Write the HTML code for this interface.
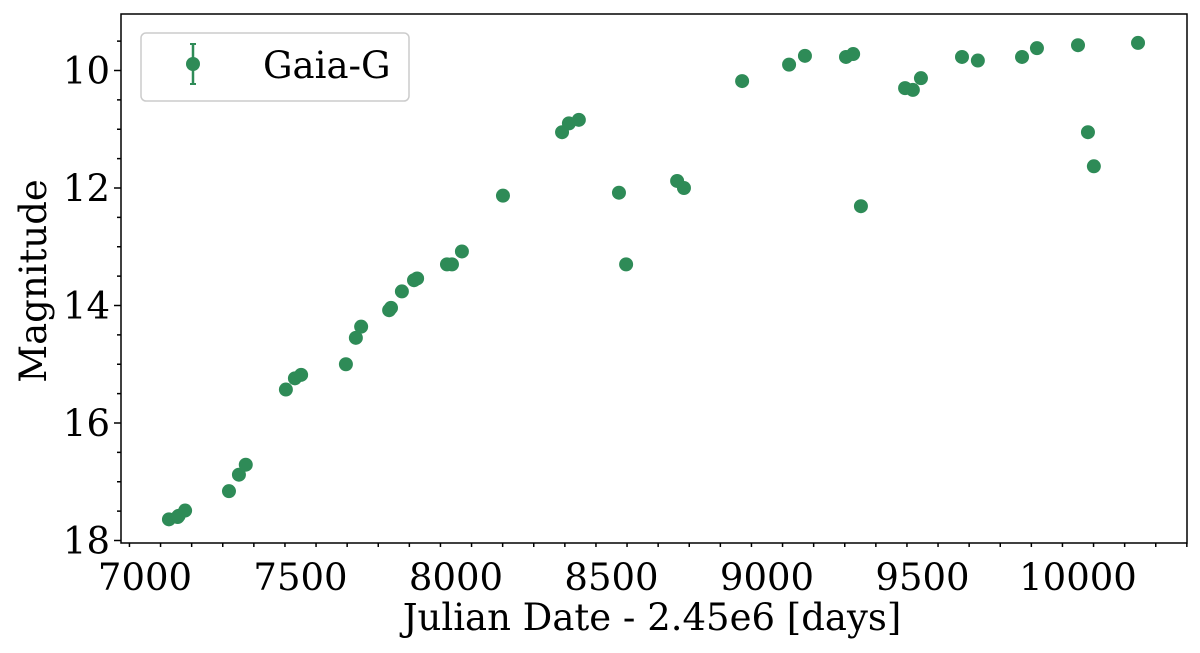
<!DOCTYPE html>
<html><head><meta charset="utf-8"><style>
body{margin:0;background:#fff}
svg text{font-family:"DejaVu Serif","Liberation Serif",serif;fill:#000}
</style></head><body>
<svg id="chart" style="position:absolute;left:0;top:0" width="1200" height="653"></svg>
<script>
const xs=[7077,7105,7108,7129,7270,7302,7324,7453,7482,7502,7646,7678,7695,7785,7791,7826,7865,7875,7971,7987,8019,8151,8341,8363,8395,8524,8547,8711,8733,8920,9071,9122,9254,9277,9302,9444,9469,9495,9627,9678,9820,9868,10000,10032,10051,10193];
const mags=[17.64,17.6,17.58,17.49,17.16,16.88,16.71,15.43,15.24,15.18,15.0,14.55,14.36,14.08,14.04,13.76,13.57,13.54,13.3,13.3,13.08,12.13,11.05,10.9,10.84,12.08,13.3,11.88,12.0,10.18,9.9,9.75,9.77,9.72,12.31,10.3,10.33,10.13,9.77,9.83,9.77,9.62,9.57,11.05,11.63,9.53];
const xTicks=[7000,7500,8000,8500,9000,9500,10000];
const yTicks=[10,12,14,16,18];
const NS="http://www.w3.org/2000/svg";
const svg=document.getElementById('chart');
const L=121,R=1187,T=14,B=543;
const X=v=>145+(v-7000)*155.5/500;
const Y=v=>70.5+(v-10)*58.75;
function el(t,a,p){const e=document.createElementNS(NS,t);for(const k in a)e.setAttribute(k,a[k]);(p||svg).appendChild(e);return e;}
for(let v=6950;v<=10350;v+=100){if(X(v)<L||X(v)>R)continue;const major=v%500===0;
 const t=el('line',{x1:X(v),x2:X(v),y1:B,y2:B+(major?7:4),stroke:'#000','stroke-width':1.5});
 
 }
for(let v=9.5;v<=18;v+=0.5){const major=v%2===0;
 const t=el('line',{x1:L,x2:L-(major?7:4),y1:Y(v),y2:Y(v),stroke:'#000','stroke-width':1.5});
 
 }
xTicks.forEach(v=>{const t=el('text',{x:X(v),y:B+47,'text-anchor':'middle','font-size':37});t.textContent=v;
 
 });
yTicks.forEach(v=>{const t=el('text',{x:L-11,y:Y(v)+13,'text-anchor':'end','font-size':37});t.textContent=v;
 
 });
xs.forEach((x,i)=>{const c=el('circle',{cx:X(x),cy:Y(mags[i]),r:7,fill:'#2e8b57'});
 
 });
const f=el('rect',{x:L,y:T,width:R-L,height:B-T,fill:'none',stroke:'#000','stroke-width':1.5});


</script>
<svg style="position:absolute;left:0;top:0" width="1200" height="653">
<g>
<rect x="141" y="33" width="268" height="68" rx="5" fill="#fff" stroke="#ccc" stroke-width="1.5"/>
<line x1="193" y1="44" x2="193" y2="84" stroke="#2e8b57" stroke-width="2.5"/>
<line x1="190" y1="44" x2="196" y2="44" stroke="#2e8b57" stroke-width="2"/>
<line x1="190" y1="84" x2="196" y2="84" stroke="#2e8b57" stroke-width="2"/>
<circle cx="193" cy="64" r="7" fill="#2e8b57"/>
<text x="263" y="78" font-size="37">Gaia-G</text>
</g>
<text x="652" y="630" text-anchor="middle" font-size="37">Julian Date - 2.45e6 [days]</text>
<text transform="translate(46,281) rotate(-90)" text-anchor="middle" font-size="37">Magnitude</text>
</svg>
</body></html>
